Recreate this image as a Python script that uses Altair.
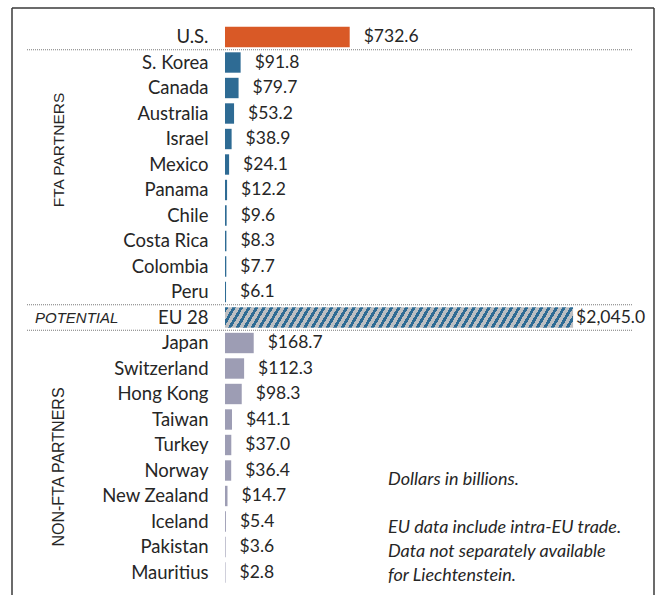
import altair as alt
import pandas as pd

countries = ["U.S.", "S. Korea", "Canada", "Australia", "Israel", "Mexico", "Panama",
             "Chile", "Costa Rica", "Colombia", "Peru", "EU 28", "Japan", "Switzerland",
             "Hong Kong", "Taiwan", "Turkey", "Norway", "New Zealand", "Iceland",
             "Pakistan", "Mauritius"]
values = [732.6, 91.8, 79.7, 53.2, 38.9, 24.1, 12.2, 9.6, 8.3, 7.7, 6.1, 2045.0,
          168.7, 112.3, 98.3, 41.1, 37.0, 36.4, 14.7, 5.4, 3.6, 2.8]
groups = ["US"] + ["FTA"] * 10 + ["EU"] + ["NON"] * 10
group_names = ["US", "FTA", "NON"]
group_colors = ["#D95926", "#2E6B94", "#9D9DB4"]
separators = ["S. Korea", "EU 28", "Japan"]
notes = ["Dollars in billions.", "", "EU data include intra-EU trade.",
         "Data not separately available", "for Liechtenstein."]

df = pd.DataFrame({"country": countries, "value": values, "group": groups})

W, H = 408, 561
XMAX = 2397
TOP = 24.25
LEFT = 225

# hatched fill for EU bar (diagonal stripes via hard-stop linear gradient)
eu_px = 2045.0 * W / XMAX
bar_h = H / 22 * 0.8
shift = 12.0
period = 7.5
total = eu_px + shift
n = int(round(total / period))
stops = []
for i in range(n):
    a = i / n
    b = (i + 0.45) / n
    c = (i + 1) / n
    stops += [alt.GradientStop(offset=a, color="#2E6B94"),
              alt.GradientStop(offset=b, color="#2E6B94"),
              alt.GradientStop(offset=b, color="#BDBFC2"),
              alt.GradientStop(offset=c, color="#BDBFC2")]
x2v = 1.0
y2v = shift / eu_px
norm = (x2v * x2v + y2v * y2v) / (x2v + y2v)
hatch = alt.LinearGradient(gradient="linear", stops=stops, x1=0, y1=0,
                           x2=x2v / norm, y2=y2v / norm)

ysc = alt.Scale(domain=countries, paddingInner=0.2, paddingOuter=0.1)
yenc = alt.Y("country:N", sort=countries, scale=ysc,
             axis=alt.Axis(title=None, ticks=False, domain=False, labelPadding=17,
                           labelFont="Lato", labelFontSize=18.5, labelColor="#262626"))
xenc = alt.X("value:Q", scale=alt.Scale(domain=[0, XMAX]), axis=None)

base = alt.Chart(df)

bars = base.transform_filter(alt.datum.group != "EU").mark_bar().encode(
    x=xenc, y=yenc,
    color=alt.Color("group:N", scale=alt.Scale(domain=group_names, range=group_colors), legend=None),
)
eu_bar = base.transform_filter(alt.datum.group == "EU").mark_bar(fill=hatch).encode(
    x=xenc, y=yenc)

label_style = dict(align="left", baseline="middle", font="Lato", fontSize=17.5, color="#262626")
labels = base.transform_filter(alt.datum.group != "EU").mark_text(dx=14, **label_style).encode(
    x=xenc, y=yenc, text=alt.Text("value:Q", format="$,.1f"))
eu_label = base.transform_filter(alt.datum.group == "EU").mark_text(dx=3, **label_style).encode(
    x=xenc, y=yenc, text=alt.Text("value:Q", format="$,.1f"))

sep = alt.Chart(pd.DataFrame({"country": separators})).mark_rule(
    yOffset=-(H / 22 - bar_h) / 2, strokeDash=[1, 1], color="#7a7a7a", strokeWidth=1
).encode(y=alt.Y("country:N", sort=countries, scale=ysc, bandPosition=0),
         x=alt.value(27 - LEFT), x2=alt.value(W))

one = pd.DataFrame({"a": [0]})
potential = alt.Chart(pd.DataFrame({"country": ["EU 28"]})).mark_text(
    align="left", baseline="middle", font="Liberation Sans", fontSize=15,
    fontStyle="italic", color="#262626"
).encode(y=alt.Y("country:N", sort=countries, scale=ysc), x=alt.value(35 - LEFT),
         text=alt.value("POTENTIAL"))

fta = alt.Chart(one).mark_text(align="center", baseline="middle", angle=270,
                               font="Liberation Sans", fontSize=15.5, color="#262626").encode(
    x=alt.value(59 - LEFT), y=alt.value(150 - TOP), text=alt.value("FTA PARTNERS"))
nonfta = alt.Chart(one).mark_text(align="center", baseline="middle", angle=270,
                                  font="Liberation Sans", fontSize=16, color="#262626").encode(
    x=alt.value(59 - LEFT), y=alt.value(467 - TOP), text=alt.value("NON-FTA PARTNERS"))

note_layers = []
for i, line in enumerate(notes):
    if not line:
        continue
    note_layers.append(alt.Chart(one).mark_text(
        align="left", baseline="middle", font="Lato", fontSize=18, fontStyle="italic",
        color="#262626").encode(x=alt.value(388 - LEFT), y=alt.value(480 + 24 * i - TOP),
                                text=alt.value(line)))

# frame (open at the bottom, as cropped in the reference)
bx0, bx1, by0, by1 = 12 - LEFT, 654 - LEFT, 8 - TOP, 620
frame_style = dict(color="#3a3a3a", strokeWidth=1.5)
frame = [
    alt.Chart(one).mark_rule(**frame_style).encode(x=alt.value(bx0), y=alt.value(by0), y2=alt.value(by1)),
    alt.Chart(one).mark_rule(**frame_style).encode(x=alt.value(bx1), y=alt.value(by0), y2=alt.value(by1)),
    alt.Chart(one).mark_rule(**frame_style).encode(x=alt.value(bx0), x2=alt.value(bx1), y=alt.value(by0)),
]

chart = alt.layer(*frame, sep, bars, eu_bar, labels, eu_label, potential, fta, nonfta,
                  *note_layers).properties(
    width=W, height=H,
    background="white",
    autosize=alt.AutoSizeParams(type="none"),
    padding={"left": LEFT, "top": TOP, "right": 24, "bottom": 10},
).configure_view(strokeWidth=0, stroke="transparent")

chart.save("out.html", embed_options={"renderer": "svg", "actions": False})
